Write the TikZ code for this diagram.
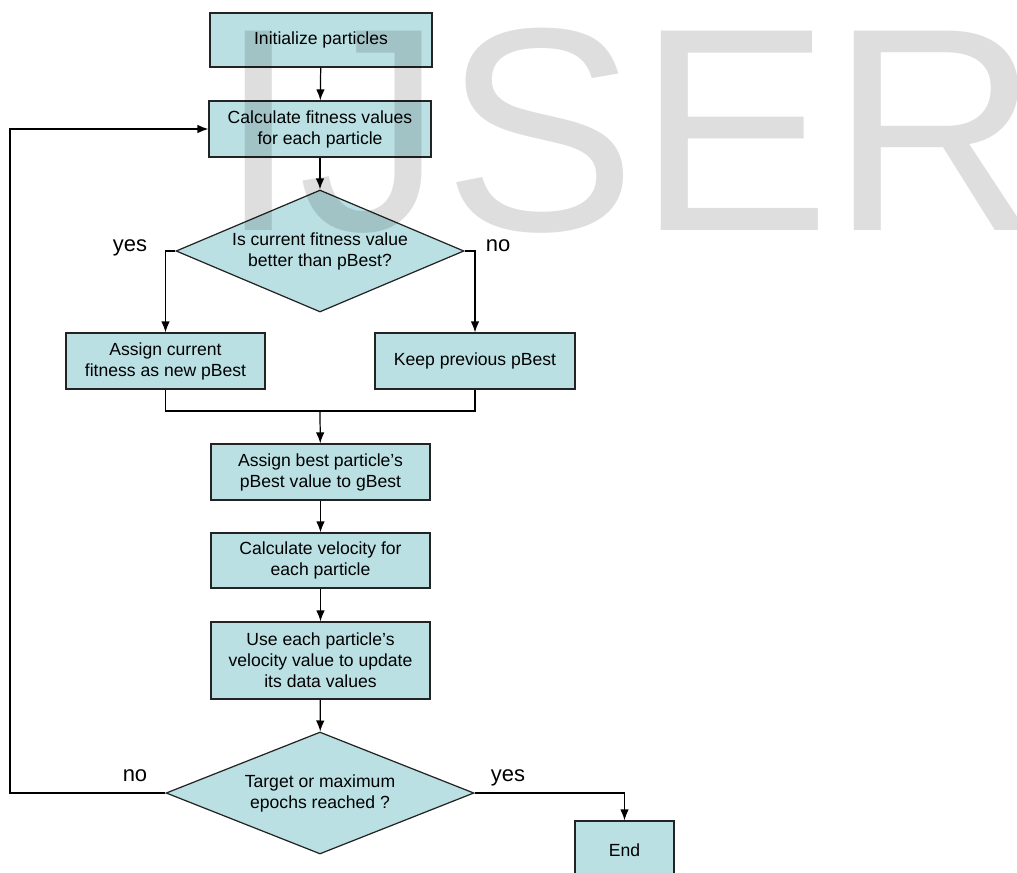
\documentclass[tikz,border=0pt]{standalone}
\usepackage{fontspec}
\setmainfont{Liberation Sans}
\definecolor{PSOFill}{RGB}{186,224,228}
\definecolor{PSOLine}{RGB}{35,35,35}
\usetikzlibrary{positioning, shapes, arrows.meta, calc}

\tikzset{
  stepbox/.style={draw=PSOLine, fill=PSOFill, line width=0.7pt, align=center,
    font=\fontsize{10}{12}\selectfont, inner sep=2pt},
  decision/.style={diamond, draw=PSOLine, fill=PSOFill, line width=0.7pt, align=center,
    font=\fontsize{10}{12}\selectfont, inner sep=0pt, minimum height=2.44cm},
  flow/.style={-{Latex[length=2.2mm,width=1.7mm]}, line width=0.7pt},
  answer/.style={font=\fontsize{12.5}{15}\selectfont, anchor=base}
}

\begin{document}
\begin{tikzpicture}[x=0.02cm, y=-0.02cm]
\useasboundingbox (0,0) rectangle (1017,872);

% steps of the swarm loop
\node[stepbox, minimum width=4.44cm, minimum height=1.08cm] (init) at (321,40) {Initialize particles};
\node[stepbox, minimum width=4.44cm, minimum height=1.12cm] (fit) at (320,129) {Calculate fitness values\\for each particle};
\node[decision, minimum width=5.76cm, aspect=2.36] (better) at (320,251) {Is current fitness value\\better than pBest?};
\node[stepbox, minimum width=3.98cm, minimum height=1.12cm] (newpb) at (165.5,361) {Assign current\\fitness as new pBest};
\node[stepbox, minimum width=4.0cm, minimum height=1.12cm] (keeppb) at (475,361) {Keep previous pBest};
\node[stepbox, minimum width=4.38cm, minimum height=1.12cm] (gbest) at (320.5,472) {Assign best particle's\\pBest value to gBest};
\node[stepbox, minimum width=4.38cm, minimum height=1.1cm] (vel) at (320.5,560.5) {Calculate velocity for\\each particle};
\node[stepbox, minimum width=4.38cm, minimum height=1.54cm] (upd) at (320.5,660.5) {Use each particle's\\velocity value to update\\its data values};
\node[decision, minimum width=6.16cm, aspect=2.5] (stop) at (320,793) {Target or maximum\\epochs reached ?};
\node[stepbox, minimum width=1.98cm, minimum height=1.16cm] (end) at (624.5,850) {End};

\coordinate (merge) at (320,411);
\coordinate (back) at (10,793);

% connectors
\draw[flow] (init) -- (fit);
\draw[flow] (fit) -- (better);
\draw[flow] (better.west) -| (newpb.north);
\draw[flow] (better.east) -| (keeppb.north);
\draw[line width=0.7pt] (newpb.south) |- (merge) -| (keeppb.south);
\draw[flow] (merge) -- (gbest);
\draw[flow] (gbest) -- (vel);
\draw[flow] (vel) -- (upd);
\draw[flow] (upd) -- (stop);
\draw[flow] (stop.west) -- (back) |- (fit.west);
\draw[flow] (stop.east) -| (end.north);

\node[answer] (yes1) at (130,251) {yes};
\node[answer] (no1) at (498,251) {no};
\node[answer] (no2) at (135,781) {no};
\node[answer] (yes2) at (508,781) {yes};

% watermark
\node[inner sep=0pt, anchor=base west, font=\fontsize{165}{165}\selectfont, text=black, text opacity=0.13] (mark) at (218,230) {IJSER};
\end{tikzpicture}
\end{document}
